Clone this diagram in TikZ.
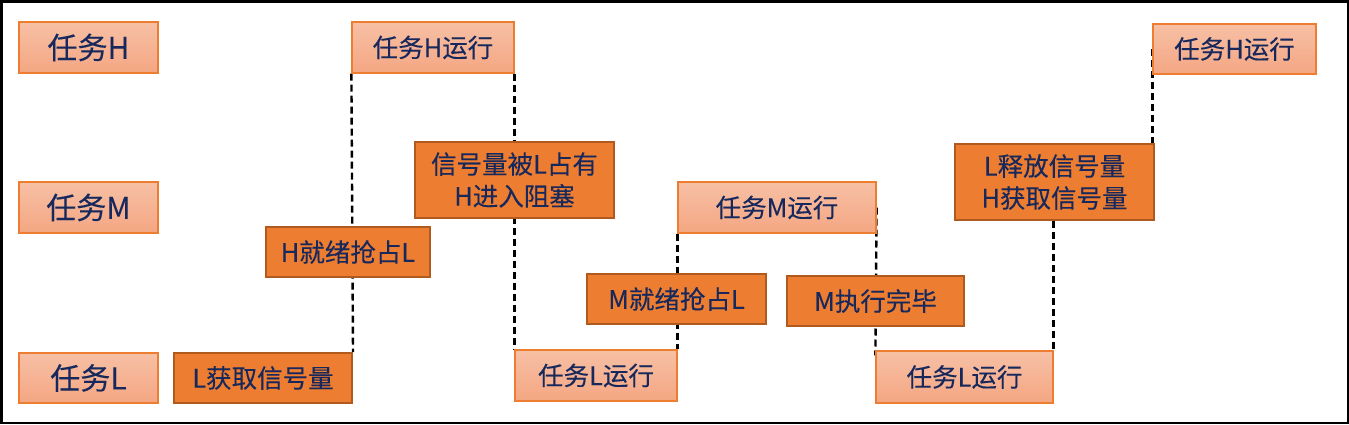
\documentclass[tikz,border=0pt]{standalone}
\usepackage{fontspec}
\setmainfont{Noto Sans CJK SC}[FakeBold=0.2]
\usetikzlibrary{calc}
\pgfdeclarelayer{background}
\pgfsetlayers{background,main}
\definecolor{txt}{RGB}{22,40,92}
\definecolor{orangefill}{RGB}{237,125,49}
\definecolor{orangeedge}{RGB}{176,90,30}
\definecolor{lighttop}{RGB}{247,192,165}
\definecolor{lightbot}{RGB}{244,166,130}
\tikzset{
  box/.style={rectangle, inner sep=0pt, align=center, text=txt,
    font=\fontsize{25.5}{32}\selectfont},
  lightbox/.style={box, draw=orangefill, line width=1.2pt,
    top color=lighttop, bottom color=lightbot},
  darkbox/.style={box, draw=orangeedge, line width=2pt, fill=orangefill},
  bigtext/.style={font=\fontsize{30}{34}\selectfont},
  dashline/.style={draw=black, line width=2.4pt, dash pattern=on 7pt off 4pt}
}
\begin{document}
\begin{tikzpicture}[x=1pt,y=-1pt]
\useasboundingbox (0,0) rectangle (1349,424);
\draw[line width=2.5pt] (1.25,1.25) rectangle (1347.75,422.75);
% left labels
\node[lightbox,bigtext,minimum width=139pt,minimum height=51pt] (th) at (88.5,47.5) {任务H};
\node[lightbox,bigtext,minimum width=139pt,minimum height=51pt] (tm) at (88.5,207.5) {任务M};
\node[lightbox,bigtext,minimum width=139pt,minimum height=50pt] (tl) at (88.5,378) {任务L};
% light boxes
\node[lightbox,minimum width=162pt,minimum height=51pt] (hr1) at (433,47.5) {任务H运行};
\node[lightbox,minimum width=163pt,minimum height=50pt] (hr2) at (1234.5,49) {任务H运行};
\node[lightbox,minimum width=198pt,minimum height=51pt] (mr) at (777,207.5) {任务M运行};
\node[lightbox,minimum width=162pt,minimum height=51pt] (ll1) at (596,375.5) {任务L运行};
\node[lightbox,minimum width=177pt,minimum height=52pt] (ll2) at (964.5,377) {任务L运行};
% dark boxes
\node[darkbox,minimum width=199pt,minimum height=76pt] (sb) at (514.5,180) {信号量被L占有\\H进入阻塞};
\node[darkbox,minimum width=199pt,minimum height=76pt] (lr) at (1054.5,182) {L释放信号量\\H获取信号量};
\node[darkbox,minimum width=164pt,minimum height=50pt] (hp) at (348,252) {H就绪抢占L};
\node[darkbox,minimum width=178pt,minimum height=50pt] (lg) at (263,378) {L获取信号量};
\node[darkbox,minimum width=179pt,minimum height=50pt] (mp) at (676.5,299) {M就绪抢占L};
\node[darkbox,minimum width=177pt,minimum height=50pt] (me) at (875.5,301) {M执行完毕};
% dashed connectors
\begin{pgfonlayer}{background}
\draw[dashline] (hr1.south west) -- (lg.north east);
\draw[dashline] (hr1.south east) -- (hr1.south east |- ll1.north west);
\draw[dashline] (mr.south west) -- (mr.south west |- ll1.north east);
\draw[dashline] (mr.east) -- ($(ll2.north west)+(0,5)$);
\draw[dashline] (lr.south -| ll2.north east) -- (ll2.north east);
\draw[dashline] (hr2.west) -- (hr2.west |- lr.north east);
\end{pgfonlayer}
\end{tikzpicture}
\end{document}
